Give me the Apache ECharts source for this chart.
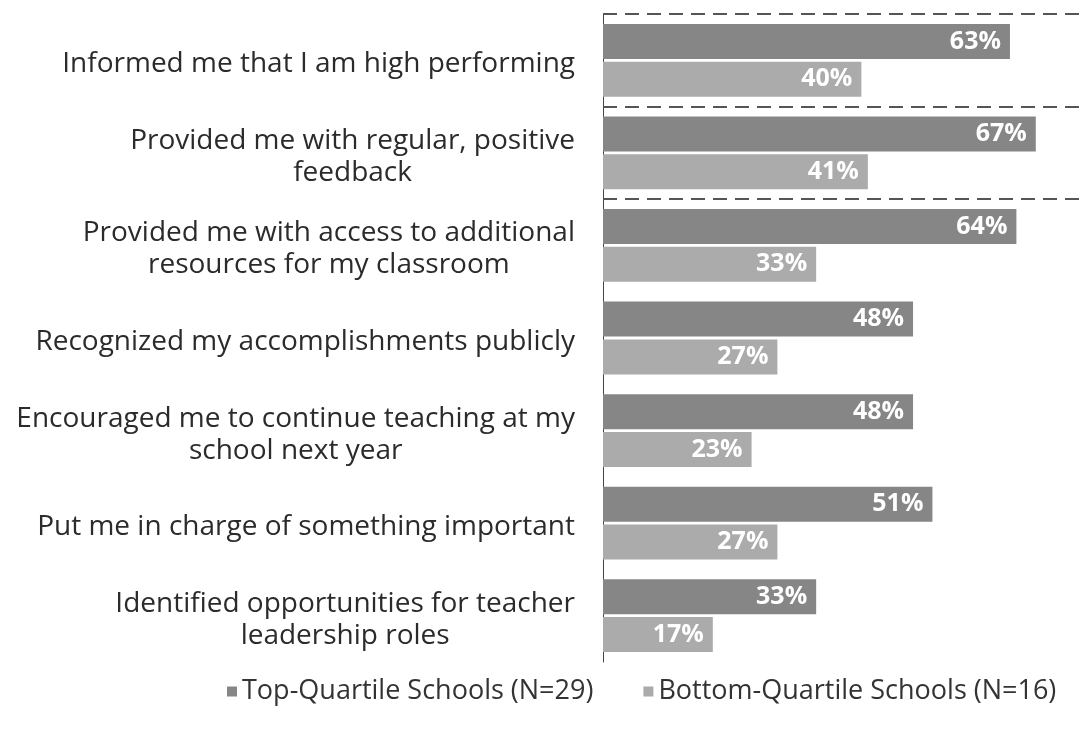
<!DOCTYPE html>
<html>
<head>
<meta charset="utf-8">
<script src="https://cdn.jsdelivr.net/npm/echarts@6/dist/echarts.min.js"></script>
<style>
  html, body { margin: 0; padding: 0; background: #fff; }
  #chart { width: 1081px; height: 734px; }
</style>
</head>
<body>
<div id="chart"></div>
<script>
// Survey items, top to bottom
const categories = [
  'Informed me that I am high performing',
  'Provided me with regular, positive\nfeedback',
  'Provided me with access to additional\nresources for my classroom',
  'Recognized my accomplishments publicly',
  'Encouraged me to continue teaching at my\nschool next year',
  'Put me in charge of something important',
  'Identified opportunities for teacher\nleadership roles'
];
const topQuartile = [63, 67, 64, 48, 48, 51, 33];
const bottomQuartile = [40, 41, 33, 27, 23, 27, 17];
const seriesNames = ['Top-Quartile Schools (N=29)', 'Bottom-Quartile Schools (N=16)'];
// Boundaries (in category units) of the highlighted rows
const highlightBounds = [0, 1, 2];

const labelFont = '"Open Sans", "Noto Sans", sans-serif';

// one rich style per row so every line of a wrapped label is centred in its block
const rich = {};
categories.forEach((c, i) => {
  rich['c' + i] = { align: 'center', fontSize: 28, lineHeight: 32, color: '#2b2b2b', fontFamily: labelFont };
});

const barLabel = {
  show: true,
  position: 'insideRight',
  distance: 9,
  formatter: p => p.value + '%',
  color: '#ffffff',
  fontWeight: 'bold',
  fontSize: 25,
  fontFamily: labelFont
};

const chart = echarts.init(document.getElementById('chart'), null, { renderer: 'canvas' });
chart.setOption({
  animation: false,
  backgroundColor: '#ffffff',
  grid: { left: 603, right: 0, top: 14, height: 648 },
  legend: {
    data: seriesNames,
    top: 673,
    left: 222,
    itemWidth: 10,
    itemHeight: 10,
    itemGap: 50,
    icon: 'rect',
    textStyle: { fontSize: 27, color: '#333', fontFamily: labelFont }
  },
  xAxis: {
    type: 'value',
    min: 0,
    max: 74,
    show: false
  },
  yAxis: [
    {
      type: 'category',
      data: categories,
      inverse: true,
      axisLine: { show: true, lineStyle: { color: '#444', width: 1 } },
      axisTick: { show: false },
      splitLine: { show: false },
      axisLabel: {
        margin: 28,
        align: 'right',
        padding: [8, 0, 0, 0],
        formatter: (value, idx) => value.split('\n').map(l => '{c' + idx + '|' + l + '}').join('\n'),
        rich: rich
      }
    },
    {
      type: 'value',
      min: 0,
      max: 7,
      inverse: true,
      show: false
    }
  ],
  series: [
    {
      name: seriesNames[0],
      type: 'bar',
      data: topQuartile,
      barWidth: 35,
      barGap: '8%',
      itemStyle: { color: '#868686' },
      label: barLabel
    },
    {
      name: seriesNames[1],
      type: 'bar',
      data: bottomQuartile,
      barWidth: 35,
      itemStyle: { color: '#ababab' },
      label: barLabel
    },
    {
      name: 'highlight',
      type: 'line',
      yAxisIndex: 1,
      data: [],
      silent: true,
      markLine: {
        silent: true,
        symbol: ['none', 'none'],
        label: { show: false },
        lineStyle: { type: [14, 8], color: '#555', width: 2 },
        data: highlightBounds.map(v => ({ yAxis: v }))
      }
    }
  ]
});
</script>
</body>
</html>
